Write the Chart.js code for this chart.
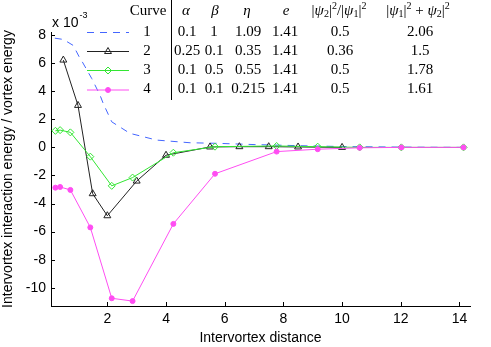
<!DOCTYPE html>
<html>
<head>
<meta charset="utf-8">
<script src="https://cdn.jsdelivr.net/npm/chart.js@4.4.1/dist/chart.umd.min.js"></script>
<style>
  html, body { margin: 0; padding: 0; background: #fff; }
</style>
</head>
<body>
<canvas id="chart" width="491" height="347"></canvas>
<script>
// ---- data (energies in units of 1e-3) ----
const blueX  = [0.21, 0.5, 0.84, 1.07, 1.15, 1.47, 1.75, 1.86, 2.15, 2.77, 3.68, 4.82, 5.73, 7.0, 8.57, 10.0, 12.0, 14.14];
const blueY  = [7.78, 7.69, 7.26, 6.33, 6.08, 4.9, 3.72, 3.13, 1.82, 1.0, 0.52, 0.33, 0.29, 0.2, 0.12, 0.06, 0.02, 0.0];

const blackX = [0.5, 1, 1.5, 2, 3, 4, 5.5, 6.5, 7.5, 8.5, 10];
const blackY = [6.22, 2.99, -3.3, -4.87, -2.4, -0.56, 0.03, 0.05, 0.05, 0.03, 0.0];

const greenX = [0.23, 0.39, 0.74, 1.42, 2.15, 2.86, 4.25, 5.67, 7.77, 9.17, 10.6, 12.02, 14.14];
const greenY = [1.18, 1.23, 1.07, -0.66, -2.74, -2.15, -0.38, 0.05, 0.1, 0.05, 0.0, 0.0, 0.0];

const pinkX  = [0.23, 0.39, 0.74, 1.42, 2.15, 2.86, 4.25, 5.67, 7.77, 9.17, 10.6, 12.02, 14.14];
const pinkY  = [-2.87, -2.82, -3.03, -5.7, -10.75, -10.95, -5.45, -1.88, -0.3, -0.13, -0.03, 0.0, 0.0];

const xTicks = [2, 4, 6, 8, 10, 12, 14];
const yTicks = [-10, -8, -6, -4, -2, 0, 2, 4, 6, 8];

// parameter table shown top right
const curveNums = ['1', '2', '3', '4'];
const alphaVals = ['0.1', '0.25', '0.1', '0.1'];
const betaVals  = ['1', '0.1', '0.5', '0.1'];
const etaVals   = ['1.09', '0.35', '0.55', '0.215'];
const eVals     = ['1.41', '1.41', '1.41', '1.41'];
const ratioVals = ['0.5', '0.36', '0.5', '0.5'];
const sumVals   = ['2.06', '1.5', '1.78', '1.61'];

const SANS  = '"Liberation Sans", Arial, Helvetica, sans-serif';
const SERIF = '"Liberation Serif", "Times New Roman", serif';

const pts = (xs, ys) => xs.map((x, i) => ({ x, y: ys[i] }));

// draws a run of text pieces centred on cx: [text, size, dy, italic]
function rich(ctx, parts, cx, cy) {
  const fontOf = p => (p[3] ? 'italic ' : '') + p[1] + 'px ' + SERIF;
  let w = 0;
  parts.forEach(p => { ctx.font = fontOf(p); w += ctx.measureText(p[0]).width; });
  let xx = cx - w / 2;
  ctx.textAlign = 'left';
  parts.forEach(p => {
    ctx.font = fontOf(p);
    ctx.fillText(p[0], xx, cy + p[2]);
    xx += ctx.measureText(p[0]).width;
  });
}

// inward tick marks, the x10^-3 factor and the legend table
const decor = {
  id: 'decor',
  afterDraw(chart) {
    const ctx = chart.ctx;
    const xs = chart.scales.x, ys = chart.scales.y;
    const a = chart.chartArea;
    ctx.save();
    ctx.strokeStyle = '#000';
    ctx.lineWidth = 1;
    ctx.beginPath();
    xs.ticks.forEach(t => {
      const px = Math.round(xs.getPixelForValue(t.value)) + 0.5;
      ctx.moveTo(px, a.bottom); ctx.lineTo(px, a.bottom - 4);
    });
    ys.ticks.forEach(t => {
      const py = Math.round(ys.getPixelForValue(t.value)) + 0.5;
      ctx.moveTo(a.left, py); ctx.lineTo(a.left + 4, py);
    });
    ctx.stroke();

    // exponent label
    ctx.fillStyle = '#000';
    ctx.textBaseline = 'middle';
    ctx.textAlign = 'left';
    ctx.font = '14px ' + SANS;
    ctx.fillText('x 10', 52, 23);
    const w10 = ctx.measureText('x 10').width;
    ctx.font = '9px ' + SANS;
    ctx.fillText('-3', 52 + w10 + 1, 16);

    // table header
    const hy = 11;
    ctx.font = '15px ' + SERIF;
    ctx.textAlign = 'center';
    ctx.fillText('Curve', 148, hy);
    ctx.font = 'italic 15px ' + SERIF;
    ctx.fillText('\u03b1', 186, hy);
    ctx.fillText('\u03b2', 215, hy);
    ctx.fillText('\u03b7', 247, hy);
    ctx.fillText('e', 286, hy);
    rich(ctx, [['|', 15, 0], ['\u03c8', 15, 0, true], ['2', 10, 3], ['|', 15, 0], ['2', 10, -5],
               ['/|', 15, 0], ['\u03c8', 15, 0, true], ['1', 10, 3], ['|', 15, 0], ['2', 10, -5]], 339, hy);
    rich(ctx, [['|', 15, 0], ['\u03c8', 15, 0, true], ['1', 10, 3], ['|', 15, 0], ['2', 10, -5],
               [' + ', 15, 0], ['\u03c8', 15, 0, true], ['2', 10, 3], ['|', 15, 0], ['2', 10, -5]], 418, hy);

    // separator
    ctx.beginPath();
    ctx.moveTo(171.5, 0); ctx.lineTo(171.5, 100);
    ctx.stroke();

    // rows
    const rowY = [32, 51, 70, 89.5];
    chart.data.datasets.forEach((ds, i) => {
      const ry = rowY[i];
      ctx.save();
      ctx.strokeStyle = ds.borderColor;
      ctx.lineWidth = ds.borderWidth;
      ctx.setLineDash(ds.borderDash || []);
      ctx.beginPath();
      ctx.moveTo(87, ry + 0.5); ctx.lineTo(129, ry + 0.5);
      ctx.stroke();
      ctx.setLineDash([]);
      if (ds.pointRadius > 0) {
        ctx.fillStyle = ds.pointBackgroundColor;
        ctx.strokeStyle = ds.pointBorderColor;
        Chart.helpers.drawPoint(ctx, {
          pointStyle: ds.pointStyle, radius: ds.pointRadius,
          borderWidth: 1, rotation: 0
        }, 108, ry + 0.5);
      }
      ctx.restore();

      ctx.fillStyle = '#000';
      ctx.font = '15px ' + SERIF;
      ctx.textAlign = 'center';
      ctx.fillText(curveNums[i], 147, ry);
      ctx.fillText(alphaVals[i], 187, ry);
      ctx.fillText(betaVals[i], 214, ry);
      ctx.fillText(etaVals[i], 248, ry);
      ctx.fillText(eVals[i], 285, ry);
      ctx.fillText(ratioVals[i], 340, ry);
      ctx.fillText(sumVals[i], 420, ry);
    });
    ctx.restore();
  }
};

new Chart(document.getElementById('chart'), {
  type: 'line',
  data: {
    datasets: [
      {
        label: 'Curve 1', data: pts(blueX, blueY),
        borderColor: '#4466ff', borderWidth: 1, borderDash: [7, 6],
        pointRadius: 0, pointStyle: 'circle', tension: 0, order: 4
      },
      {
        label: 'Curve 2', data: pts(blackX, blackY),
        borderColor: '#222222', borderWidth: 1,
        pointStyle: 'triangle', pointRadius: 4, pointBorderWidth: 1,
        pointBorderColor: '#222222', pointBackgroundColor: 'rgba(0,0,0,0)', tension: 0, order: 3
      },
      {
        label: 'Curve 3', data: pts(greenX, greenY),
        borderColor: '#33e633', borderWidth: 1,
        pointStyle: 'rectRot', pointRadius: 3.5, pointBorderWidth: 1,
        pointBorderColor: '#33e633', pointBackgroundColor: 'rgba(0,0,0,0)', tension: 0, order: 2
      },
      {
        label: 'Curve 4', data: pts(pinkX, pinkY),
        borderColor: '#ff4df2', borderWidth: 1,
        pointStyle: 'circle', pointRadius: 2.5, pointBorderWidth: 1,
        pointBorderColor: '#ff4df2', pointBackgroundColor: '#ff4df2', tension: 0, order: 1
      }
    ]
  },
  options: {
    responsive: false,
    animation: false,
    layout: { padding: { left: 0, right: 21, top: 32, bottom: 0 } },
    plugins: { legend: { display: false }, tooltip: { enabled: false } },
    scales: {
      x: {
        type: 'linear', min: 0.08, max: 14.36,
        afterBuildTicks: s => { s.ticks = xTicks.map(v => ({ value: v })); },
        afterFit: s => { s.height = 41; },
        grid: { display: false, drawTicks: false },
        border: { display: true, color: '#000', width: 1 },
        ticks: { color: '#000', font: { size: 14, family: SANS }, padding: 5, maxRotation: 0, autoSkip: false },
        title: { display: true, text: 'Intervortex distance', color: '#000',
                 font: { size: 14, family: SANS }, padding: { top: 0, bottom: 0 } }
      },
      y: {
        type: 'linear', min: -11.3, max: 8.22,
        afterBuildTicks: s => { s.ticks = yTicks.map(v => ({ value: v })); },
        afterFit: s => { s.width = 51; },
        grid: { display: false, drawTicks: false },
        border: { display: true, color: '#000', width: 1 },
        ticks: { color: '#000', font: { size: 14, family: SANS }, padding: 5, autoSkip: false },
        title: { display: true, text: 'Intervortex interaction energy / vortex energy', color: '#000',
                 font: { size: 14, family: SANS }, padding: { top: 0, bottom: 0 } }
      }
    }
  },
  plugins: [decor]
});
</script>
</body>
</html>
